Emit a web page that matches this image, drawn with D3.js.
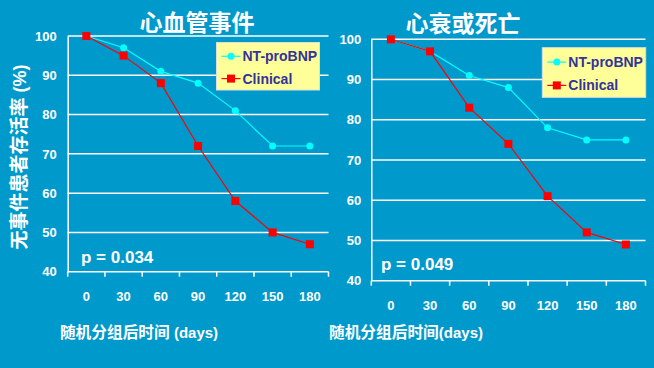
<!DOCTYPE html>
<html>
<head>
<meta charset="utf-8">
<script src="https://cdn.jsdelivr.net/npm/d3@7"></script>
<style>
  body { margin: 0; background: #0099cc; }
  svg { display: block; font-family: Arial, "Liberation Sans", sans-serif; }
</style>
</head>
<body>
<svg id="chart" width="654" height="368"></svg>
<script>
// data
var days = ["0", "30", "60", "90", "120", "150", "180"];
var yTicks = [40, 50, 60, 70, 80, 90, 100];

var cvNtprobnp = [100, 97, 91, 88, 81, 72, 72];
var cvClinical = [100, 95, 88, 72, 58, 50, 47];

var hfNtprobnp = [100, 97, 91, 88, 78, 75, 75];
var hfClinical = [100, 97, 83, 74, 61, 52, 49];

var seriesNames = ["NT-proBNP", "Clinical"];

var svg = d3.select("#chart");
svg.append("rect").attr("width", 654).attr("height", 368).attr("fill", "#0099cc");

var cyan = "#00ffff", red = "#ff0000";
var cjk = "'Noto Sans CJK SC', sans-serif";

function drawPanel(opt) {
  var g = svg.append("g");

  var x = d3.scaleBand().domain(days).range([opt.x0, opt.x1]);
  var y = d3.scaleLinear().domain([40, 100]).range([opt.y1, opt.y0]);

  // gridlines
  g.selectAll(".grid").data(yTicks.slice(1)).enter()
    .append("line")
    .attr("x1", opt.x0).attr("x2", opt.x1)
    .attr("y1", function(d){ return y(d); })
    .attr("y2", function(d){ return y(d); })
    .attr("stroke", "#fff").attr("stroke-width", 1.5);

  // y axis
  var ya = g.append("g").attr("transform", "translate(" + opt.x0 + ",0)")
    .call(d3.axisLeft(y).tickValues(yTicks).tickSize(0).tickPadding(opt.yPad));
  ya.select(".domain").attr("stroke", "#fff").attr("stroke-width", 1.5);
  ya.selectAll("text").attr("fill", "#fff").attr("font-size", 13).attr("font-weight", "bold");

  // x axis: ticks between bands
  var xa = g.append("g").attr("transform", "translate(0," + opt.y1 + ")");
  xa.append("line").attr("x1", opt.x0).attr("x2", opt.x1)
    .attr("stroke", "#fff").attr("stroke-width", 1.5);
  var edges = days.map(function(d){ return x(d); }).concat([opt.x1]);
  xa.selectAll(".tk").data(edges).enter().append("line")
    .attr("x1", function(d){ return d; }).attr("x2", function(d){ return d; })
    .attr("y1", 0).attr("y2", 5).attr("stroke", "#fff").attr("stroke-width", 1.5);
  xa.selectAll(".lb").data(days).enter().append("text")
    .attr("x", function(d){ return x(d) + x.bandwidth() / 2; })
    .attr("y", opt.xLabY - opt.y1)
    .attr("text-anchor", "middle")
    .attr("fill", "#fff").attr("font-size", 13).attr("font-weight", "bold")
    .text(function(d){ return d; });

  var cx = function(d, i){ return x(days[i]) + x.bandwidth() / 2; };
  var line = d3.line().x(cx).y(function(d){ return y(d); });

  // NT-proBNP
  g.append("path").datum(opt.nt).attr("d", line)
    .attr("fill", "none").attr("stroke", cyan).attr("stroke-width", 1.2);
  g.selectAll(".nt").data(opt.nt).enter().append("circle")
    .attr("cx", cx).attr("cy", function(d){ return y(d); })
    .attr("r", 3.5).attr("fill", cyan);

  // Clinical
  g.append("path").datum(opt.cl).attr("d", line)
    .attr("fill", "none").attr("stroke", red).attr("stroke-width", 1.2);
  g.selectAll(".cl").data(opt.cl).enter().append("rect")
    .attr("x", function(d, i){ return cx(d, i) - 4; })
    .attr("y", function(d){ return y(d) - 4; })
    .attr("width", 8).attr("height", 8).attr("fill", red);

  // title
  g.append("text").attr("x", opt.titleX).attr("y", opt.titleY)
    .attr("text-anchor", "middle").attr("fill", "#fff")
    .attr("font-family", cjk)
    .attr("font-size", 23).attr("font-weight", "bold")
    .text(opt.title);

  // p value
  g.append("text").attr("x", opt.pX).attr("y", opt.pY)
    .attr("fill", "#fff").attr("font-size", 17).attr("font-weight", "bold")
    .text(opt.p);

  // x title: chinese part + latin part
  var xt = g.append("text").attr("x", opt.xtX).attr("y", 338)
    .attr("text-anchor", "middle").attr("fill", "#fff")
    .attr("font-weight", "bold");
  xt.append("tspan").attr("font-family", cjk).attr("font-size", 15.7).text(opt.xTitle[0]);
  xt.append("tspan").attr("font-size", 15).text(opt.xTitle[1]);

  // legend
  var lg = g.append("g").attr("transform", "translate(" + opt.lx + "," + opt.ly + ")");
  lg.append("rect").attr("width", opt.lw).attr("height", opt.lh)
    .attr("fill", "#ffff99").attr("stroke", "#ddd").attr("stroke-width", 1);
  var rowY = [opt.lh * 0.29, opt.lh * 0.76];
  lg.selectAll(".ll").data(seriesNames).enter().append("line")
    .attr("x1", 5).attr("x2", 24)
    .attr("y1", function(d, i){ return rowY[i]; })
    .attr("y2", function(d, i){ return rowY[i]; })
    .attr("stroke", function(d, i){ return i ? red : cyan; }).attr("stroke-width", 1.2);
  lg.append("circle").attr("cx", 14.5).attr("cy", rowY[0]).attr("r", 3.5).attr("fill", cyan);
  lg.append("rect").attr("x", 10.5).attr("y", rowY[1] - 4).attr("width", 8).attr("height", 8).attr("fill", red);
  lg.selectAll(".lt").data(seriesNames).enter().append("text")
    .attr("x", 26).attr("y", function(d, i){ return rowY[i] + 5; })
    .attr("fill", "#333399").attr("font-size", 14).attr("font-weight", "bold")
    .text(function(d){ return d; });
}

drawPanel({
  x0: 67.7, x1: 328.5, y0: 36, y1: 271.7, yPad: 11, xLabY: 301,
  nt: cvNtprobnp, cl: cvClinical,
  title: "心血管事件", titleX: 197, titleY: 31,
  p: "p = 0.034", pX: 81, pY: 263,
  xTitle: ["随机分组后时间", " (days)"], xtX: 139,
  lx: 216.5, ly: 42.5, lw: 103, lh: 47.5
});

drawPanel({
  x0: 371.3, x1: 645.5, y0: 39.3, y1: 280.7, yPad: 10, xLabY: 310,
  nt: hfNtprobnp, cl: hfClinical,
  title: "心衰或死亡", titleX: 463, titleY: 32,
  p: "p = 0.049", pX: 381, pY: 270,
  xTitle: ["随机分组后时间", "(days)"], xtX: 406,
  lx: 542.3, ly: 47.7, lw: 103.4, lh: 49.6
});

// shared y title
var ytl = svg.append("text")
  .attr("transform", "translate(26,157) rotate(-90)")
  .attr("text-anchor", "middle").attr("fill", "#fff")
  .attr("font-weight", "bold");
ytl.append("tspan").attr("font-family", cjk).attr("font-size", 19).text("无事件患者存活率");
ytl.append("tspan").attr("font-size", 18).text(" (%)");
</script>
</body>
</html>
